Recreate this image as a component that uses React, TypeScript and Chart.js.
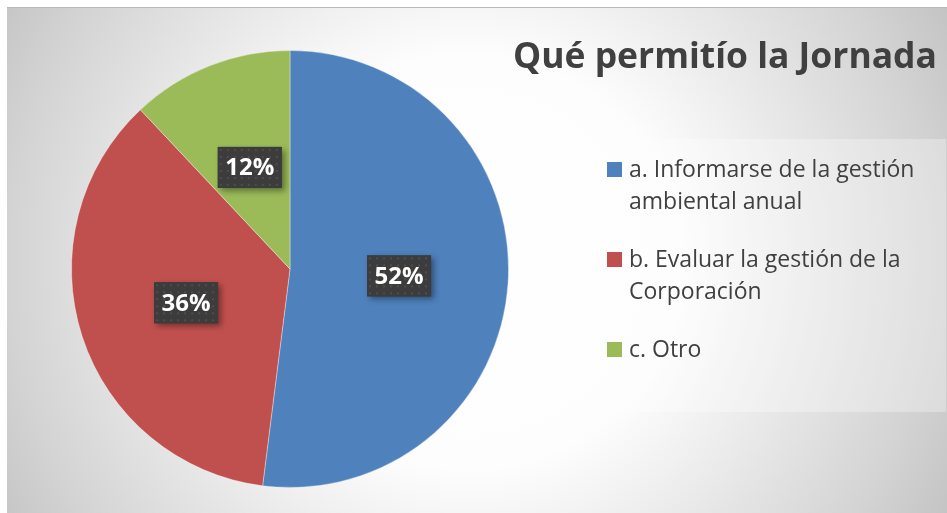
import React, { useEffect, useRef } from "react";
import { Chart, registerables } from "chart.js";

Chart.register(...registerables);

const chartTitle = "Qué permitío la Jornada";
const categories = [
  "a. Informarse de la gestión ambiental anual",
  "b. Evaluar la gestión de la Corporación",
  "c. Otro",
];
const values = [52, 36, 12];
const colors = ["#4F81BD", "#C0504D", "#9BBB59"];

const W = 947;
const H = 513;
const TEXT = "#404040";
const FONT = "'Open Sans', 'DejaVu Sans', sans-serif";

function wrap(ctx: CanvasRenderingContext2D, text: string, maxW: number): string[] {
  const words = text.split(" ");
  const lines: string[] = [];
  let cur = "";
  for (const w of words) {
    const t = cur ? cur + " " + w : w;
    if (ctx.measureText(t).width > maxW && cur) {
      lines.push(cur);
      cur = w;
    } else cur = t;
  }
  if (cur) lines.push(cur);
  return lines;
}

const bgPlugin = {
  id: "bg",
  beforeDraw(chart: any) {
    const ctx = chart.ctx as CanvasRenderingContext2D;
    ctx.save();
    ctx.fillStyle = "#ffffff";
    ctx.fillRect(0, 0, W, H);
    const g = ctx.createRadialGradient(470, 262, 0, 470, 262, 545);
    g.addColorStop(0, "#ffffff");
    g.addColorStop(0.38, "#fdfdfd");
    g.addColorStop(0.55, "#eeeeee");
    g.addColorStop(0.85, "#d3d3d3");
    g.addColorStop(1, "#c3c3c3");
    ctx.fillStyle = g;
    ctx.fillRect(7, 8, W - 7, H - 8);
    ctx.fillStyle = "#b9b9b9";
    ctx.fillRect(7, 7, W - 7, 1);
    // legend panel
    ctx.fillStyle = "rgba(255,255,255,0.3)";
    ctx.fillRect(582, 139, 364, 273);
    ctx.restore();
  },
};

let dotPattern: CanvasPattern | null = null;
function getPattern(ctx: CanvasRenderingContext2D) {
  if (dotPattern) return dotPattern;
  const c = document.createElement("canvas");
  c.width = 7;
  c.height = 7;
  const p = c.getContext("2d")!;
  p.fillStyle = "#3c3c3c";
  p.fillRect(0, 0, 7, 7);
  p.fillStyle = "#4e4e4e";
  p.fillRect(2, 2, 2, 2);
  dotPattern = ctx.createPattern(c, "repeat");
  return dotPattern;
}

const overlayPlugin = {
  id: "overlay",
  afterDraw(chart: any) {
    const ctx = chart.ctx as CanvasRenderingContext2D;
    const meta = chart.getDatasetMeta(0);
    const data = chart.data.datasets[0].data as number[];
    const total = data.reduce((a, b) => a + b, 0);
    ctx.save();
    // data labels
    meta.data.forEach((arc: any, i: number) => {
      const p = arc.getProps(["x", "y", "startAngle", "endAngle", "outerRadius"], true);
      const mid = (p.startAngle + p.endAngle) / 2;
      const r = p.outerRadius * 0.5;
      const cx = p.x + Math.cos(mid) * r;
      const cy = p.y + Math.sin(mid) * r;
      const txt = Math.round((data[i] / total) * 100) + "%";
      const bw = 64, bh = 41;
      ctx.save();
      ctx.shadowColor = "rgba(0,0,0,0.4)";
      ctx.shadowBlur = 6;
      ctx.shadowOffsetX = 3;
      ctx.shadowOffsetY = 3;
      ctx.fillStyle = "#3c3c3c";
      ctx.fillRect(cx - bw / 2, cy - bh / 2, bw, bh);
      ctx.restore();
      ctx.save();
      ctx.translate(cx - bw / 2, cy - bh / 2);
      ctx.fillStyle = getPattern(ctx) || "#3c3c3c";
      ctx.fillRect(0, 0, bw, bh);
      ctx.restore();
      ctx.fillStyle = "#ffffff";
      ctx.font = `bold 24px ${FONT}`;
      ctx.textAlign = "center";
      ctx.textBaseline = "middle";
      ctx.fillText(txt, cx, cy + 1);
    });

    // title
    ctx.fillStyle = TEXT;
    ctx.textAlign = "left";
    ctx.textBaseline = "alphabetic";
    ctx.font = `bold 30px ${FONT}`;
    const tw = ctx.measureText(chartTitle).width;
    const fs = (30 * 424) / tw;
    ctx.font = `bold ${fs.toFixed(2)}px ${FONT}`;
    ctx.fillText(chartTitle, 513, 68);

    // legend
    ctx.font = `23px ${FONT}`;
    const labels = chart.data.labels as string[];
    let y = 177;
    labels.forEach((lab, i) => {
      const lines = wrap(ctx, lab, 305);
      ctx.fillStyle = colors[i];
      ctx.fillRect(607, y - 15, 15, 15);
      ctx.fillStyle = TEXT;
      lines.forEach((ln, j) => {
        ctx.fillText(ln, 629, y + j * 31.5);
      });
      y += lines.length * 31.5 + 27;
    });
    ctx.restore();
  },
};

export default function App() {
  const ref = useRef<HTMLCanvasElement>(null);
  useEffect(() => {
    if (!ref.current) return;
    const chart = new Chart(ref.current, {
      type: "pie",
      data: {
        labels: categories,
        datasets: [
          {
            data: values,
            backgroundColor: colors,
            borderColor: "rgba(255,255,255,0.35)",
            borderWidth: 1,
          },
        ],
      },
      options: {
        responsive: false,
        animation: false,
        devicePixelRatio: 1,
        layout: { padding: { left: 71, right: 438, top: 50, bottom: 25 } },
        plugins: {
          legend: { display: false },
          title: { display: false },
          tooltip: { enabled: false },
        },
      },
      plugins: [bgPlugin, overlayPlugin],
    });
    return () => chart.destroy();
  }, []);
  return (
    <div style={{ position: "fixed", left: 0, top: 0, width: W, height: H }}>
      <canvas ref={ref} width={W} height={H} style={{ display: "block" }} />
    </div>
  );
}
